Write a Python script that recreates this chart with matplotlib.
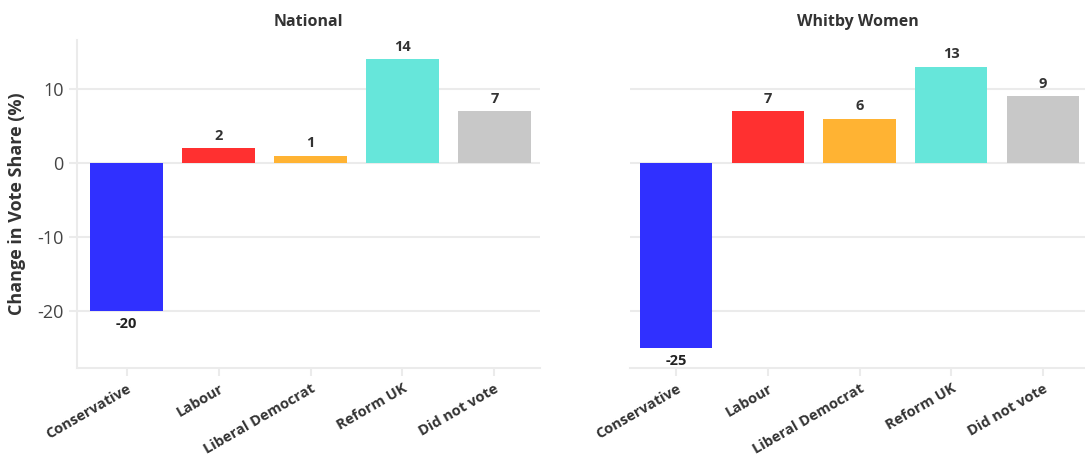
import matplotlib.pyplot as plt

parties = ['Conservative', 'Labour', 'Liberal Democrat', 'Reform UK', 'Did not vote']
national = [-20, 2, 1, 14, 7]
whitby = [-25, 7, 6, 13, 9]
colors = ['#3030FF', '#FF3030', '#FFB333', '#66E6DA', '#C8C8C8']

plt.rcParams['font.family'] = ['Open Sans', 'DejaVu Sans']
plt.rcParams['axes.unicode_minus'] = False

fig = plt.figure(figsize=(10.85, 4.72), dpi=100)
ax1 = fig.add_axes([0.071, 0.220, 0.427, 0.695])
ax2 = fig.add_axes([0.581, 0.220, 0.419, 0.695])

grid_c = '#EBEBEB'
for ax, vals, title in [(ax1, national, 'National'), (ax2, whitby, 'Whitby Women')]:
    x = range(len(parties))
    ax.bar(x, vals, width=0.79, color=colors, zorder=3)
    for xi, v in zip(x, vals):
        if v >= 0:
            ax.annotate(str(v), (xi, v), xytext=(0, 4), textcoords='offset points',
                        ha='center', va='bottom', fontsize=10.5, fontweight='bold', color='#333333')
        else:
            ax.annotate(str(v), (xi, v), xytext=(0, -4), textcoords='offset points',
                        ha='center', va='top', fontsize=10.5, fontweight='bold', color='#222222')
    ax.set_ylim(-27.7, 16.6)
    ax.set_yticks([-20, -10, 0, 10])
    ax.set_xticks(list(x))
    ax.set_xticklabels(parties, rotation=30, ha='right', rotation_mode='anchor',
                       fontsize=10.5, fontweight='bold', color='#333333')
    ax.grid(axis='y', color=grid_c, linewidth=1.5, zorder=0)
    ax.set_title(title, fontsize=11.5, fontweight='bold', color='#333333', pad=10)
    for s in ['top', 'right']:
        ax.spines[s].set_visible(False)
    ax.spines['bottom'].set_color(grid_c)
    ax.spines['bottom'].set_linewidth(1.5)
    ax.tick_params(axis='x', colors=grid_c, length=6, width=1.5, labelcolor='#333333')
    ax.tick_params(axis='y', colors=grid_c, length=6, width=1.5, labelcolor='#444444', labelsize=13)

ax1.set_xlim(-0.54, 4.5)
ax2.set_xlim(-0.5, 4.46)
ax1.spines['left'].set_color(grid_c)
ax1.spines['left'].set_linewidth(1.5)
ax1.set_ylabel('Change in Vote Share (%)', fontsize=13, fontweight='bold', color='#333333', labelpad=8)
ax2.spines['left'].set_visible(False)
ax2.tick_params(axis='y', left=False, labelleft=False)

fig.savefig('out.png')
